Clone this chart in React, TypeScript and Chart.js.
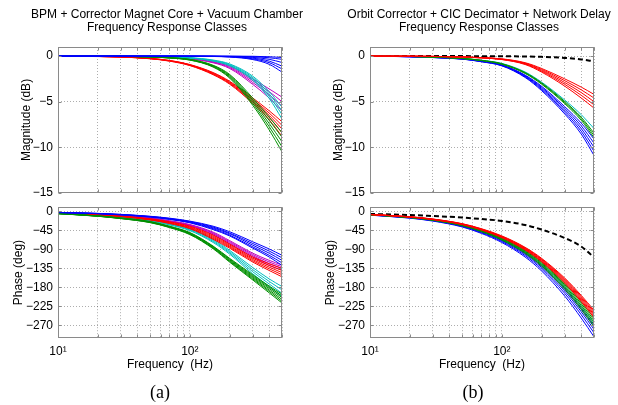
import React, { useEffect, useRef } from 'react';
import { Chart, registerables } from 'chart.js';

Chart.register(...registerables);

// ---------- data ----------
const FREQ = [10, 20, 30, 50, 70, 100, 150, 200, 300, 400, 500];
const X_GRID = [10, 20, 30, 40, 50, 60, 70, 80, 90, 100, 200, 300, 400, 500];
const X_LABELS: Record<number, string> = { 10: '10\u00b9', 100: '10\u00b2' };
const MAG_TICKS = [-15, -10, -5, 0];
const PHASE_TICKS = [-270, -225, -180, -135, -90, -45, 0];

const TITLE_A = ['BPM + Corrector Magnet Core + Vacuum Chamber', 'Frequency Response Classes'];
const TITLE_B = ['Orbit Corrector + CIC Decimator + Network Delay', 'Frequency Response Classes'];

// (a) magnitude, dB
const LM_BLUE = [
  [0, 0, 0, 0, 0, 0, 0, 0, -0.02, -0.07, -0.15],
  [0, 0, 0, 0, 0, 0, -0.01, -0.02, -0.07, -0.18, -0.35],
  [0, 0, 0, 0, 0, 0, -0.01, -0.04, -0.14, -0.35, -0.7],
  [0, 0, 0, 0, 0, 0, -0.02, -0.06, -0.22, -0.55, -1.1],
  [0, 0, 0, 0, 0, -0.01, -0.03, -0.08, -0.3, -0.72, -1.4],
  [0, 0, 0, 0, 0, -0.01, -0.04, -0.1, -0.38, -0.9, -1.75],
];
const LM_GREEN = [
  [0, 0, -0.02, -0.08, -0.17, -0.36, -1.0, -2.0, -4.6, -6.7, -8.4],
  [0, 0, -0.02, -0.08, -0.18, -0.38, -1.05, -2.1, -4.8, -7.05, -8.9],
  [0, 0, -0.02, -0.09, -0.19, -0.4, -1.1, -2.2, -5.0, -7.4, -9.4],
  [0, 0, -0.02, -0.09, -0.2, -0.42, -1.15, -2.3, -5.2, -7.75, -9.95],
  [0, -0.01, -0.03, -0.1, -0.21, -0.44, -1.2, -2.4, -5.4, -8.1, -10.5],
];
const LM_RED = [
  [0, -0.04, -0.09, -0.25, -0.47, -0.92, -1.8, -2.75, -4.6, -6.0, -7.2],
  [0, -0.04, -0.09, -0.26, -0.49, -0.95, -1.86, -2.83, -4.75, -6.25, -7.6],
  [0, -0.04, -0.1, -0.27, -0.51, -0.98, -1.92, -2.91, -4.9, -6.5, -8.0],
  [0, -0.04, -0.1, -0.28, -0.53, -1.01, -1.98, -2.99, -5.05, -6.75, -8.4],
  [0, -0.05, -0.1, -0.29, -0.55, -1.04, -2.04, -3.07, -5.2, -7.0, -8.8],
];
const LM_CYAN = [
  [0, 0, 0, -0.03, -0.07, -0.17, -0.43, -0.85, -2.2, -3.9, -5.6],
  [0, 0, 0, -0.03, -0.08, -0.19, -0.47, -0.92, -2.35, -4.15, -6.0],
  [0, 0, -0.01, -0.04, -0.09, -0.2, -0.51, -0.99, -2.5, -4.4, -6.4],
  [0, 0, -0.01, -0.04, -0.1, -0.22, -0.55, -1.06, -2.65, -4.65, -6.9],
];
const LM_MAGENTA = [
  [0, 0, -0.01, -0.06, -0.12, -0.25, -0.58, -1.05, -2.5, -3.6, -4.5],
  [0, 0, -0.01, -0.06, -0.13, -0.27, -0.63, -1.15, -2.7, -3.9, -5.0],
  [0, 0, -0.01, -0.07, -0.14, -0.29, -0.68, -1.25, -2.9, -4.25, -5.5],
  [0, -0.01, -0.02, -0.07, -0.15, -0.31, -0.73, -1.35, -3.1, -4.6, -6.0],
];

// (a) phase, deg
const LP_BLUE = [
  [-2.3, -4.6, -7, -11.5, -16, -23, -35, -48, -72, -89, -104],
  [-2.4, -4.8, -7.3, -12, -16.8, -24, -37, -51, -76, -94, -110],
  [-2.5, -5, -7.6, -12.5, -17.5, -25, -39, -53, -80, -99, -116],
  [-2.6, -5.2, -7.9, -13, -18.3, -26, -41, -56, -84, -104, -122],
  [-2.7, -5.4, -8.2, -13.5, -19, -27, -43, -58, -87, -108, -128],
];
const LP_GREEN = [
  [-5, -10.5, -15.5, -24, -35, -50, -82, -111, -150, -177, -196],
  [-5.05, -10.7, -15.8, -24.5, -35.6, -51, -83.2, -112.8, -152.5, -180, -200],
  [-5.1, -10.9, -16.1, -25, -36.2, -52, -84.4, -114.6, -155, -183, -204],
  [-5.2, -11.1, -16.5, -25.6, -37, -53, -85.8, -116.4, -157.5, -186.5, -208.5],
  [-5.25, -11.3, -16.8, -26.1, -37.6, -54, -87, -118.2, -160, -189.5, -213],
  [-5.3, -11.5, -17.1, -26.6, -38.2, -55, -88.4, -120, -162.5, -193, -217],
];
const LP_RED = [
  [-3.5, -7.2, -10.8, -17.5, -24.5, -35, -56, -77, -108, -124, -135],
  [-3.6, -7.5, -11.2, -18.2, -25.5, -36.5, -58.5, -79.5, -111, -128, -140],
  [-3.7, -7.8, -11.6, -18.9, -26.5, -38, -61, -82, -114, -132, -145],
  [-3.8, -8.1, -12, -19.6, -27.5, -39.5, -63.5, -84.5, -117, -136, -150],
  [-3.9, -8.4, -12.4, -20.3, -28.5, -41, -66, -87, -120, -140, -155],
];
const LP_CYAN = [
  [-4, -8.5, -12.8, -20, -29, -41, -66, -92, -133, -160, -178],
  [-4.1, -8.8, -13.2, -20.8, -30, -42.5, -68.5, -95, -138, -166, -186],
  [-4.2, -9.1, -13.6, -21.5, -31, -44, -71, -98, -143, -172, -194],
  [-4.3, -9.4, -14, -22.2, -32, -45.5, -73.5, -101, -148, -178, -202],
];
const LP_MAGENTA = [
  [-3, -6.5, -9.5, -15.5, -22, -31, -49, -69, -99, -116, -127],
  [-3.1, -6.7, -9.8, -16, -22.8, -32, -51, -71.5, -102, -120, -131],
  [-3.2, -6.9, -10.1, -16.5, -23.5, -33, -53, -74, -105, -124, -135],
  [-3.3, -7.1, -10.4, -17, -24.2, -34, -55, -76.5, -108, -128, -139],
];

// (b) magnitude, dB
const RM_RED = [
  [0, -0.01, -0.03, -0.08, -0.16, -0.3, -0.72, -1.35, -2.5, -3.4, -4.2],
  [0, -0.01, -0.03, -0.09, -0.17, -0.32, -0.77, -1.45, -2.7, -3.7, -4.6],
  [0, -0.01, -0.03, -0.09, -0.18, -0.34, -0.82, -1.55, -2.9, -4.0, -5.0],
  [0, -0.01, -0.04, -0.1, -0.19, -0.36, -0.87, -1.65, -3.1, -4.3, -5.35],
  [0, -0.01, -0.04, -0.1, -0.2, -0.38, -0.92, -1.75, -3.3, -4.6, -5.7],
];
const RM_GREEN = [
  [0, -0.04, -0.1, -0.25, -0.46, -0.83, -1.8, -2.93, -4.98, -6.7, -8.45],
  [0, -0.04, -0.1, -0.26, -0.47, -0.86, -1.85, -3.0, -5.1, -6.87, -8.7],
  [0, -0.04, -0.11, -0.27, -0.49, -0.89, -1.9, -3.08, -5.22, -7.04, -8.95],
];
const RM_CYAN = [
  [0, -0.04, -0.1, -0.25, -0.45, -0.8, -1.74, -2.85, -4.82, -6.42, -7.95],
];
const RM_BLUE = [
  [0, -0.06, -0.14, -0.29, -0.54, -0.95, -2.08, -3.3, -5.55, -7.35, -9.1],
  [0, -0.06, -0.14, -0.3, -0.56, -0.98, -2.14, -3.42, -5.75, -7.65, -9.55],
  [0, -0.06, -0.15, -0.31, -0.58, -1.01, -2.2, -3.54, -5.95, -7.95, -10.0],
  [0, -0.07, -0.15, -0.32, -0.6, -1.04, -2.27, -3.66, -6.15, -8.25, -10.45],
  [0, -0.07, -0.16, -0.33, -0.62, -1.07, -2.34, -3.78, -6.35, -8.55, -10.9],
];
const RM_DELAY = [[0, 0, 0, 0, -0.01, -0.02, -0.04, -0.08, -0.2, -0.36, -0.57]];

// (b) phase, deg
const RP_RED = [
  [-7, -12.5, -18, -29, -41, -58, -85, -111, -158, -199, -234],
  [-7.1, -12.7, -18.3, -29.4, -41.6, -58.9, -86.3, -112.7, -160.4, -202, -237.5],
  [-7.2, -12.9, -18.5, -29.9, -42.2, -59.7, -87.6, -114.3, -162.7, -205, -241],
  [-7.3, -13.1, -18.8, -30.3, -42.8, -60.6, -88.8, -116, -165.1, -208, -244.5],
  [-7.4, -13.3, -19.1, -30.7, -43.5, -61.5, -90.1, -117.7, -167.5, -211, -248],
  [-7.5, -13.4, -19.4, -31.2, -44.1, -62.4, -91.4, -119.3, -169.9, -213.9, -251.6],
];
const RP_GREEN = [
  [-7.6, -13.5, -19.4, -31.3, -44.3, -62.6, -91.8, -119.9, -170.6, -214.9, -252.7],
  [-7.7, -13.8, -19.8, -31.9, -45.1, -63.8, -93.5, -122.1, -173.8, -218.9, -257.4],
  [-7.8, -14, -20.2, -32.5, -45.9, -65, -95.2, -124.3, -177, -222.9, -262.1],
  [-8, -14.3, -20.6, -33.2, -46.9, -66.4, -97.3, -127.1, -180.9, -227.9, -267.9],
  [-8.2, -14.6, -21.1, -33.9, -48, -67.9, -99.5, -129.9, -184.9, -232.8, -273.8],
];
const RP_CYAN = [
  [-7.9, -14.1, -20.3, -32.8, -46.3, -65.5, -96.1, -125.4, -178.5, -224.9, -264.4],
];
const RP_BLUE = [
  [-8.1, -14.5, -20.9, -33.6, -47.6, -67.3, -98.6, -128.8, -183.3, -230.8, -271.4],
  [-8.4, -14.9, -21.5, -34.7, -49, -69.3, -101.6, -132.6, -188.8, -237.8, -279.6],
  [-8.6, -15.4, -22.1, -35.7, -50.4, -71.3, -104.6, -136.5, -194.3, -244.8, -287.8],
  [-8.9, -15.9, -22.9, -36.8, -52.1, -73.7, -108, -141, -200.7, -252.7, -297.2],
];
const RP_DELAY = [[-6, -8.5, -11, -14.5, -18, -22.5, -32, -43, -63, -83, -109]];

// ---------- styling ----------
const SANS = '"Liberation Sans", Arial, Helvetica, sans-serif';
const SERIF = '"Liberation Serif", "Times New Roman", serif';
const C_BLUE = '#0000ff';
const C_GREEN = '#009000';
const C_RED = '#ff0000';
const C_CYAN = '#00bfbf';
const C_MAGENTA = '#bf00bf';
const GRID = 'rgba(0,0,0,0.32)';
const FRAME = '#8a8a8a';

type Group = { color: string; curves: number[][]; dash?: number[]; width?: number };
type Panel = {
  left: number; top: number; width: number; height: number;
  groups: Group[];
  yMin: number; yMax: number; yTicks: number[]; yTitle: string; yTitlePad: number;
  yWidth: number; rightWidth: number;
  showX: boolean; xHeight: number;
  padTop: number; padBottom: number;
  title: string[] | string; titlePos: 'top' | 'bottom';
  titleFont: any; titlePad: { top: number; bottom: number };
};

const fmt = (v: number) => (v < 0 ? '\u2212' + Math.abs(v) : String(v));

const framePlugin = {
  id: 'frameBox',
  afterDatasetsDraw(chart: any) {
    const { ctx, chartArea: a, scales } = chart;
    const l = Math.round(a.left) + 0.5;
    const r = Math.round(a.right) - 0.5;
    const t = Math.round(a.top) + 0.5;
    const b = Math.round(a.bottom) - 0.5;
    ctx.save();
    ctx.setLineDash([]);
    ctx.strokeStyle = FRAME;
    ctx.lineWidth = 1;
    ctx.strokeRect(l, t, r - l, b - t);
    ctx.beginPath();
    const xs = scales.x;
    for (const tk of xs.ticks) {
      const px = Math.round(xs.getPixelForValue(tk.value)) + 0.5;
      ctx.moveTo(px, t); ctx.lineTo(px, t + 3);
      ctx.moveTo(px, b); ctx.lineTo(px, b - 3);
    }
    const ys = scales.y;
    for (const tk of ys.ticks) {
      const py = Math.round(ys.getPixelForValue(tk.value)) + 0.5;
      ctx.moveTo(l, py); ctx.lineTo(l + 3, py);
      ctx.moveTo(r, py); ctx.lineTo(r - 3, py);
    }
    ctx.stroke();
    ctx.restore();
  },
};

function buildConfig(p: Panel): any {
  const datasets: any[] = [];
  p.groups.forEach((g) =>
    g.curves.forEach((vals) =>
      datasets.push({
        data: FREQ.map((f, i) => ({ x: f, y: vals[i] })),
        borderColor: g.color,
        borderWidth: g.width ?? 1,
        borderDash: g.dash ?? [],
        pointRadius: 0,
        pointHoverRadius: 0,
        fill: false,
        cubicInterpolationMode: 'monotone',
        xAxisID: 'x',
        yAxisID: 'y',
      })
    )
  );
  const tickFont = { family: SANS, size: 12, weight: 'normal' };
  return {
    type: 'line',
    data: { datasets },
    options: {
      animation: false,
      responsive: false,
      maintainAspectRatio: false,
      events: [],
      layout: { padding: { left: 0, right: 0, top: p.padTop, bottom: p.padBottom } },
      plugins: {
        legend: { display: false },
        tooltip: { enabled: false },
        title: {
          display: true,
          text: p.title,
          position: p.titlePos,
          fullSize: true,
          color: '#000',
          font: p.titleFont,
          padding: p.titlePad,
        },
      },
      scales: {
        x: {
          type: 'logarithmic',
          min: 10,
          max: 500,
          afterBuildTicks: (s: any) => { s.ticks = X_GRID.map((v) => ({ value: v })); },
          afterFit: (s: any) => { s.height = p.xHeight; },
          ticks: {
            display: p.showX,
            autoSkip: false,
            maxRotation: 0,
            padding: 6,
            color: '#000',
            font: tickFont,
            callback: (v: any) => X_LABELS[Number(v)] ?? '',
          },
          grid: { color: GRID, drawTicks: false, lineWidth: 1 },
          border: { display: false, dash: [1, 2] },
          title: {
            display: p.showX,
            text: 'Frequency  (Hz)',
            color: '#000',
            font: { family: SANS, size: 12, weight: 'normal' },
            padding: { top: 0, bottom: 0 },
          },
        },
        y: {
          type: 'linear',
          min: p.yMin,
          max: p.yMax,
          afterBuildTicks: (s: any) => { s.ticks = p.yTicks.map((v) => ({ value: v })); },
          afterFit: (s: any) => { s.width = p.yWidth; },
          ticks: {
            autoSkip: false,
            padding: 5,
            color: '#000',
            font: tickFont,
            callback: (v: any) => fmt(Number(v)),
          },
          grid: { color: GRID, drawTicks: false, lineWidth: 1 },
          border: { display: false, dash: [1, 2] },
          title: {
            display: true,
            text: p.yTitle,
            color: '#000',
            font: { family: SANS, size: 12, weight: 'normal' },
            padding: { top: p.yTitlePad, bottom: 0 },
          },
        },
        yR: {
          type: 'linear',
          position: 'right',
          display: true,
          afterFit: (s: any) => { s.width = p.rightWidth; },
          ticks: { display: false },
          grid: { display: false, drawTicks: false },
          border: { display: false },
        },
      },
    },
    plugins: [framePlugin],
  };
}

const TITLE_FONT = { family: SANS, size: 12, lineHeight: 1.125, weight: 'normal' };
const CAPTION_FONT = { family: SERIF, size: 18, lineHeight: 1.2, weight: 'normal' };

const PANELS: Panel[] = [
  {
    left: 0, top: 0, width: 334, height: 205,
    groups: [
      { color: C_BLUE, curves: LM_BLUE },
      { color: C_GREEN, curves: LM_GREEN },
      { color: C_RED, curves: LM_RED },
      { color: C_CYAN, curves: LM_CYAN },
      { color: C_MAGENTA, curves: LM_MAGENTA },
    ],
    yMin: -15, yMax: 1, yTicks: MAG_TICKS, yTitle: 'Magnitude (dB)', yTitlePad: 19.8,
    yWidth: 58, rightWidth: 52, showX: false, xHeight: 0, padTop: 0, padBottom: 8,
    title: TITLE_A, titlePos: 'top', titleFont: TITLE_FONT, titlePad: { top: 7.75, bottom: 12.25 },
  },
  {
    left: 330, top: 0, width: 298, height: 205,
    groups: [
      { color: C_RED, curves: RM_RED },
      { color: C_GREEN, curves: RM_GREEN },
      { color: C_CYAN, curves: RM_CYAN },
      { color: C_BLUE, curves: RM_BLUE },
      { color: '#000000', curves: RM_DELAY, dash: [5, 3], width: 2 },
    ],
    yMin: -15, yMax: 1, yTicks: MAG_TICKS, yTitle: 'Magnitude (dB)', yTitlePad: 1.8,
    yWidth: 40, rightWidth: 34, showX: false, xHeight: 0, padTop: 0, padBottom: 8,
    title: TITLE_B, titlePos: 'top', titleFont: TITLE_FONT, titlePad: { top: 7.75, bottom: 12.25 },
  },
  {
    left: 0, top: 195, width: 320, height: 210,
    groups: [
      { color: C_BLUE, curves: LP_BLUE },
      { color: C_GREEN, curves: LP_GREEN },
      { color: C_RED, curves: LP_RED },
      { color: C_CYAN, curves: LP_CYAN },
      { color: C_MAGENTA, curves: LP_MAGENTA },
    ],
    yMin: -300, yMax: 10, yTicks: PHASE_TICKS, yTitle: 'Phase (deg)', yTitlePad: 11.3,
    yWidth: 58, rightWidth: 38, showX: true, xHeight: 34, padTop: 10, padBottom: 0,
    title: '(a)', titlePos: 'bottom', titleFont: CAPTION_FONT, titlePad: { top: 10.5, bottom: 0.9 },
  },
  {
    left: 320, top: 195, width: 306, height: 210,
    groups: [
      { color: C_RED, curves: RP_RED },
      { color: C_GREEN, curves: RP_GREEN },
      { color: C_CYAN, curves: RP_CYAN },
      { color: C_BLUE, curves: RP_BLUE },
      { color: '#000000', curves: RP_DELAY, dash: [5, 3], width: 2 },
    ],
    yMin: -300, yMax: 10, yTicks: PHASE_TICKS, yTitle: 'Phase (deg)', yTitlePad: 3.3,
    yWidth: 50, rightWidth: 32, showX: true, xHeight: 34, padTop: 10, padBottom: 0,
    title: '(b)', titlePos: 'bottom', titleFont: CAPTION_FONT, titlePad: { top: 10.5, bottom: 0.9 },
  },
];

export default function App() {
  const refs = [useRef<HTMLCanvasElement>(null), useRef<HTMLCanvasElement>(null), useRef<HTMLCanvasElement>(null), useRef<HTMLCanvasElement>(null)];
  useEffect(() => {
    const charts: Chart[] = [];
    PANELS.forEach((p, i) => {
      const c = refs[i].current;
      if (c) charts.push(new Chart(c, buildConfig(p)));
    });
    return () => charts.forEach((ch) => ch.destroy());
  }, []);
  return (
    <div style={{ position: 'absolute', left: 0, top: 0, width: 618, height: 405, overflow: 'hidden', background: '#fff' }}>
      {PANELS.map((p, i) => (
        <canvas
          key={i}
          ref={refs[i]}
          width={p.width}
          height={p.height}
          style={{ position: 'absolute', left: p.left, top: p.top, width: p.width, height: p.height }}
        />
      ))}
    </div>
  );
}
